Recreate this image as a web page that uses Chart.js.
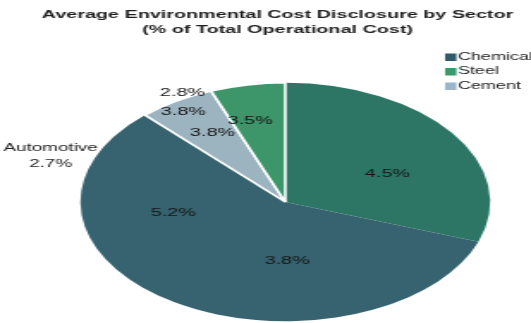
<!DOCTYPE html>
<html>
<head>
<meta charset="utf-8">
<script src="https://cdn.jsdelivr.net/npm/chart.js@4"></script>
<style>
  html, body { margin: 0; padding: 0; background: #fff; overflow: hidden; }
  #grafico { display: block; }
</style>
</head>
<body>
<!-- the reference is a stretched picture, so the canvas is drawn narrow and widened -->
<canvas id="grafico" width="309" height="323" style="width:531px;height:323px"></canvas>
<script>
// slice shares (clockwise from 12 o'clock)
const setores = ['Chemical', 'Automotive', 'Cement', 'Steel'];
const fatias = [30.4, 57.6, 6.1, 5.9];
const coresFatias = ['#2d7666', '#36636f', '#9cb3c0', '#3c9669'];

// legend entries as printed (Automotive is not in it)
const legendaNomes = ['Chemical', 'Steel', 'Cement'];
const legendaCores = ['#2f5a6a', '#3a9a6c', '#9cb5c8'];

// percentage texts printed on the pie and the slice they sit in
const rotulosTexto = ['4.5%', '3.8%', '5.2%', '3.8%', '3.8%', '2.8%', '3.5%'];
const rotulosFatia = [0, 1, 1, 2, 2, 2, 3];
const rotuloFora = ['Automotive', '2.7%'];
const rotuloForaFatia = 1;

const tituloLinhas = ['Average Environmental Cost Disclosure by Sector', '(% of Total Operational Cost)'];

// where each text sits inside its slice: fraction along the arc, fraction of radius
const posRotulos = [[0.594, 0.55], [0.335, 0.49], [0.729, 0.554], [0.534, 0.68], [0.448, 0.905], [0.66, 1.045], [0.335, 0.70]];
const posFora = [0.865, 1.21];

const fonte = '"Liberation Sans", Arial, Helvetica, sans-serif';

function pontoNaFatia(arco, t, r) {
    const p = arco.getProps(['x', 'y', 'startAngle', 'endAngle', 'outerRadius'], true);
    const ang = p.startAngle + t * (p.endAngle - p.startAngle);
    return { x: p.x + Math.cos(ang) * r * p.outerRadius, y: p.y + Math.sin(ang) * r * p.outerRadius };
}

const textosPlugin = {
    id: 'textos',
    afterDraw(chart) {
        const ctx = chart.ctx;
        const arcos = chart.getDatasetMeta(0).data;
        ctx.save();

        // title
        ctx.fillStyle = '#1e1e1e';
        ctx.textAlign = 'center';
        ctx.textBaseline = 'alphabetic';
        ctx.font = 'bold 11.5px ' + fonte;
        ctx.fillText(tituloLinhas[0], 161.5, 18);
        ctx.fillText(tituloLinhas[1], 161.5, 33);

        // legend
        ctx.font = '10.5px ' + fonte;
        ctx.textAlign = 'left';
        ctx.textBaseline = 'middle';
        legendaNomes.forEach(function (nome, i) {
            const y = 57 + i * 14.5;
            ctx.fillStyle = legendaCores[i];
            ctx.fillRect(259, y - 3.5, 6.6, 7.5);
            ctx.fillStyle = '#222';
            ctx.fillText(nome, 266.4, y);
        });

        // labels on the slices
        ctx.textAlign = 'center';
        ctx.font = '11.5px ' + fonte;
        ctx.fillStyle = '#151515';
        rotulosTexto.forEach(function (txt, i) {
            const pt = pontoNaFatia(arcos[rotulosFatia[i]], posRotulos[i][0], posRotulos[i][1]);
            ctx.fillText(txt, pt.x, pt.y);
        });

        const pf = pontoNaFatia(arcos[rotuloForaFatia], posFora[0], posFora[1]);
        ctx.font = '11px ' + fonte;
        ctx.fillStyle = '#222';
        ctx.fillText(rotuloFora[0], pf.x, pf.y - 8);
        ctx.fillText(rotuloFora[1], pf.x, pf.y + 8);

        ctx.restore();
    }
};

const config = {
    type: 'pie',
    data: {
        labels: setores,
        datasets: [{
            data: fatias,
            backgroundColor: coresFatias,
            borderColor: '#ffffff',
            borderWidth: [0, 0, 1.6, 1.6]
        }]
    },
    options: {
        responsive: false,
        animation: false,
        layout: { padding: { top: 82, bottom: 1, left: 23, right: 0 } },
        plugins: {
            legend: { display: false },
            title: { display: false },
            tooltip: { enabled: false }
        }
    },
    plugins: [textosPlugin]
};

const cof = document.getElementById('grafico').getContext('2d');
window.myChart = new Chart(cof, config);
</script>
</body>
</html>
